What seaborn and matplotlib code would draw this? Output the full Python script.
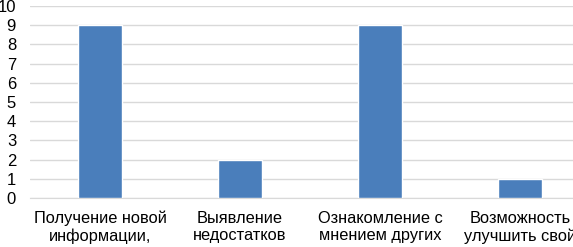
import matplotlib
matplotlib.use("Agg")
import matplotlib.pyplot as plt
import seaborn as sns
import pandas as pd

categories = ["Получение новой\nинформации,", "Выявление\nнедостатков",
              "Ознакомление с\nмнением других", "Возможность\nулучшить свой"]
values = [9, 2, 9, 1]

sns.set_style("white")
plt.rcParams['font.family'] = ['Liberation Sans', 'DejaVu Sans']

df = pd.DataFrame({"cat": categories, "val": values})

fig = plt.figure(figsize=(5.73, 2.47), dpi=100)
# the plot area runs past the right edge of the picture
ax = fig.add_axes([30 / 573, 49 / 247, 560 / 573, 192 / 247])

sns.barplot(data=df, x="cat", y="val", color="#4a7ebb", width=0.31,
            saturation=1, ax=ax, zorder=3)

ax.set_xlim(-0.5, 3.5)
ax.set_ylim(0, 10)
ax.set_yticks(range(0, 11))
ax.grid(axis="y", color="#d9d9d9", linewidth=1, zorder=0)
ax.set_xlabel("")
ax.set_ylabel("")
for s in ["top", "right", "left"]:
    ax.spines[s].set_visible(False)
ax.spines["bottom"].set_color("#d9d9d9")
ax.tick_params(axis="both", length=0, colors="black")
ax.tick_params(axis="y", pad=10, labelsize=12)
ax.tick_params(axis="x", pad=9, labelsize=11.8)
for lbl in ax.get_xticklabels():
    lbl.set_linespacing(1.2)

fig.savefig("out.png", dpi=100)
